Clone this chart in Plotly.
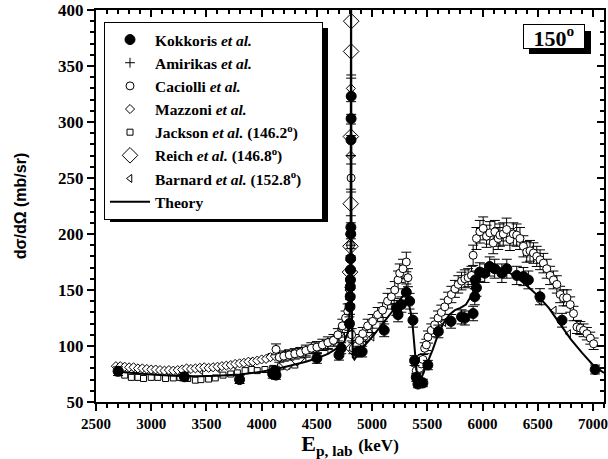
import plotly.graph_objects as go

# ---------------- data ----------------
kok_x = [2700, 3300, 3800, 4100, 4120, 4130, 4500, 4700, 4720, 4795, 4800, 4802, 4803,
         4804, 4805, 4806, 4807, 4808, 4809, 4810, 4811, 4870, 4910, 5110, 5220, 5235,
         5265, 5310, 5340, 5370, 5385, 5400, 5415, 5430, 5460, 5505, 5600, 5715, 5810,
         5840, 5915, 5930, 5945, 5935, 5975, 6020, 6065, 6110, 6175, 6220, 6310, 6370,
         6415, 6520, 6720, 7020]
kok_y = [77.5, 72.5, 70, 75, 78, 74, 89, 92, 98, 120, 135, 144, 153,
         159, 168, 178, 200, 206, 284, 303, 323, 95, 95, 114, 134, 128,
         137, 148, 140, 123, 87, 72, 66, 68, 67, 83, 113, 122, 126,
         125, 129, 144, 152, 159, 166, 165, 171, 169, 165, 169, 163, 162,
         159, 144, 123, 79]

ami_x = [4400, 4500, 4600, 4700, 4750, 4790, 4800, 4805, 4807, 4809, 4810, 4811,
         4830, 4870, 4920, 5000, 5100, 5200, 5300]
ami_y = [90, 93, 97, 103, 108, 122, 150, 200, 240, 270, 305, 342,
         96, 100, 104, 112, 122, 138, 160]

cac_x = [4130, 4160, 4200, 4250, 4300, 4350, 4400, 4450, 4500, 4550, 4600, 4650,
         4690, 4730, 4760, 4780, 4795, 4800, 4805, 4810, 4815, 4830, 4860, 4885,
         4915, 4960, 5005, 5050, 5095, 5140, 5175, 5205, 5235, 5250, 5280, 5310,
         5325, 5400, 5430, 5445, 5460, 5476, 5491, 5506, 5536, 5567, 5597, 5627,
         5658, 5688, 5718, 5750, 5780, 5810, 5840, 5870, 5900, 5915, 5945, 5976,
         6006, 6036, 6066, 6097, 6112, 6142, 6157, 6188, 6218, 6248, 6279, 6309,
         6339, 6370, 6400, 6430, 6461, 6491, 6521, 6551, 6582, 6612, 6642, 6673,
         6703, 6733, 6764, 6794, 6824, 6855, 6885, 6915, 6945, 6976, 7006]
cac_y = [97, 90, 91, 92, 93, 94, 96, 98, 99, 101, 103, 105,
         110, 118, 125, 131, 145, 160, 190, 250, 110, 98, 100, 105,
         111, 118, 122, 128, 132, 140, 144, 150, 159, 165, 169, 175,
         161, 78, 80, 84, 88, 98, 101, 108, 114, 119, 125, 130,
         135, 141, 146, 151, 155, 158, 160, 161, 163, 181, 196, 202,
         205, 198, 201, 192, 202, 196, 199, 200, 204, 195, 200, 199,
         196, 189, 184, 185, 183, 180, 177, 174, 169, 163, 159, 155,
         146, 143, 143, 137, 129, 117, 116, 114, 111, 107, 102]

maz_x = [2680, 2720, 2760, 2800, 2840, 2880, 2920, 2960, 3000, 3040, 3080, 3120,
         3160, 3200, 3240, 3280, 3320, 3360, 3400, 3440, 3480, 3520, 3560, 3600,
         3640, 3680, 3720, 3760, 3800, 3840, 3880, 3920, 3960, 4000, 4040, 4080,
         4120, 4160, 4200, 4240, 4280, 4320, 4360, 4400, 4440, 4480, 4520, 4560,
         4600, 4640, 4680, 4720, 4750, 4780, 4795, 4800, 4805, 4808, 4830, 4870,
         4920, 4970]
maz_y = [82, 82, 81.5, 81, 81, 80, 80, 79.5, 79, 79, 78.5, 78,
         78.5, 78, 78.5, 79, 80, 79.5, 80, 80.5, 81, 80.5, 81, 81.5,
         82, 82.5, 83, 84, 84.5, 85, 86, 86, 87, 88, 88.5, 90,
         91, 90, 91, 92, 93, 94, 95, 96, 97, 98, 99, 101,
         103, 105, 108, 112, 116, 125, 150, 190, 270, 330, 95, 102,
         107, 112]

jac_x = [2700, 2760, 2820, 2880, 2930, 3000, 3060, 3130, 3200, 3260, 3330, 3400,
         3450, 3520, 3580, 3650, 3720, 3780, 3850, 3910, 3960, 4030, 4100, 4170,
         4230, 4300]
jac_y = [76, 74, 72, 72, 71, 72, 72, 71, 71.5, 72, 71, 69.5,
         70, 70.5, 71.5, 74, 75, 76, 78, 79, 78, 79, 80, 81.5,
         82, 83]

rei_x = [4230, 4320, 4760, 4800, 4804, 4806, 4808, 4810, 4811, 4830, 4880]
rei_y = [85, 89, 116, 166, 189, 227, 287, 363, 390, 98, 102]

bar_x = [2700, 2850, 3000, 3150, 3300, 3450, 3600, 3750, 3900, 4050, 4200, 4350,
         4500, 4650, 4750, 5000, 5100, 5250, 5650, 6520, 6650, 6780]
bar_y = [80, 79, 78, 77, 77, 78, 80, 83, 86, 90, 93, 96,
         99, 104, 112, 108, 118, 138, 121, 140, 132, 111]

th_x = [2700, 2800, 3000, 3200, 3400, 3600, 3800, 4000, 4200, 4400, 4500, 4600,
        4700, 4750, 4780, 4790, 4800, 4805, 4808, 4810, 4812, 4814, 4818, 4825,
        4840, 4860, 4900, 5000, 5100, 5200, 5250, 5290, 5320, 5350, 5370, 5390,
        5410, 5425, 5440, 5470, 5500, 5550, 5600, 5650, 5700, 5750, 5800, 5850,
        5900, 5950, 6000, 6050, 6100, 6150, 6200, 6300, 6400, 6500, 6600, 6700,
        6800, 6900, 7000, 7100]
th_y = [77, 76, 74.5, 73.5, 73, 73.5, 74.5, 77, 81, 86, 89, 93,
        99, 104, 112, 118, 135, 170, 300, 460, 300, 150, 105, 90,
        88, 91, 97, 108, 120, 133, 141, 146, 143, 130, 115, 90,
        70, 66, 70, 78, 85, 97, 111, 121, 128, 132, 134, 137,
        145, 156, 165, 170, 171, 170, 168, 162, 154, 145, 134, 120,
        106, 94, 83, 76]

x_ticks = [2500, 3000, 3500, 4000, 4500, 5000, 5500, 6000, 6500, 7000]
y_ticks = [50, 100, 150, 200, 250, 300, 350, 400]

# ---------------- figure ----------------
W, H = 608, 459
L, R, T, B = 96, 4, 10, 57
PW, PH = W - L - R, H - T - B


def px(xp):
    return (xp - L) / PW


def py(yp):
    return (H - B - yp) / PH


fig = go.Figure()

err_kw = dict(type="percent", value=5, color="black", thickness=1, width=5)
pad = "&nbsp;" * 4

fig.add_trace(go.Scatter(x=jac_x, y=jac_y, mode="markers",
                         name="<b>Jackson <i>et al.</i> (146.2<sup>o</sup>)</b>", legendrank=5,
                         marker=dict(symbol="square", size=6, color="white",
                                     line=dict(color="black", width=1))))
fig.add_trace(go.Scatter(x=bar_x, y=bar_y, mode="markers",
                         name="<b>Barnard <i>et al.</i> (152.8<sup>o</sup>)</b>" + pad,
                         legendrank=7,
                         marker=dict(symbol="triangle-left", size=7, color="white",
                                     line=dict(color="black", width=1))))
fig.add_trace(go.Scatter(x=maz_x, y=maz_y, mode="markers",
                         name="<b>Mazzoni <i>et al.</i></b>", legendrank=4,
                         marker=dict(symbol="diamond", size=7, color="white",
                                     line=dict(color="black", width=1))))
fig.add_trace(go.Scatter(x=rei_x, y=rei_y, mode="markers",
                         name="<b>Reich <i>et al.</i> (146.8<sup>o</sup>)</b>", legendrank=6,
                         marker=dict(symbol="diamond", size=12, color="white",
                                     line=dict(color="black", width=1))))
fig.add_trace(go.Scatter(x=ami_x, y=ami_y, mode="markers",
                         name="<b>Amirikas <i>et al.</i></b>", legendrank=2,
                         marker=dict(symbol="cross-thin", size=7, color="black",
                                     line=dict(color="black", width=1))))
fig.add_trace(go.Scatter(x=cac_x, y=cac_y, mode="markers",
                         name="<b>Caciolli <i>et al.</i></b>", legendrank=3,
                         error_y=err_kw,
                         marker=dict(symbol="circle", size=8, color="white",
                                     line=dict(color="black", width=1))))
fig.add_trace(go.Scatter(x=th_x, y=th_y, mode="lines",
                         name="<b>Theory</b>", legendrank=8,
                         line=dict(color="black", width=2)))
fig.add_trace(go.Scatter(x=kok_x, y=kok_y, mode="markers",
                         name="<b>Kokkoris <i>et al.</i></b>", legendrank=1,
                         error_y=err_kw,
                         marker=dict(symbol="circle", size=10, color="black",
                                     line=dict(color="black", width=1))))
# invisible trace so the mirrored (top/right) axes get drawn
fig.add_trace(go.Scatter(x=[None], y=[None], xaxis="x2", yaxis="y2",
                         showlegend=False, hoverinfo="skip"))

tickfont = dict(family="Liberation Serif", size=15, color="black", weight="bold")
common_x = dict(range=[2500, 7100], tickvals=x_ticks,
                ticktext=["<b>%d</b>" % v for v in x_ticks],
                showline=True, linewidth=2, linecolor="black", showgrid=False,
                zeroline=False, ticklen=7, tickwidth=2, tickcolor="black",
                minor=dict(dtick=100, tick0=2500, ticklen=4, tickwidth=1.5,
                           tickcolor="black"))
common_y = dict(range=[50, 400], tickvals=y_ticks,
                ticktext=["<b>%d</b>" % v for v in y_ticks],
                showline=True, linewidth=2, linecolor="black", showgrid=False,
                zeroline=False, ticklen=7, tickwidth=2, tickcolor="black",
                minor=dict(dtick=10, tick0=50, ticklen=4, tickwidth=1.5,
                           tickcolor="black"))

fig.update_layout(
    width=W, height=H,
    margin=dict(l=L, r=R, t=T, b=B, autoexpand=False),
    paper_bgcolor="white", plot_bgcolor="white",
    font=dict(family="Liberation Serif", color="black"),
    showlegend=True,
    xaxis=dict(**common_x, ticks="outside", tickfont=tickfont,
               minor_ticks="outside",
               title=dict(text="<b>E<sub>p, lab</sub> <span style='font-size:17px'>(keV)</span></b>",
                          font=dict(family="Liberation Serif", size=22, color="black"),
                          standoff=4)),
    yaxis=dict(**common_y, ticks="outside", tickfont=dict(tickfont, size=17),
               minor_ticks="outside",
               title=dict(text="<b>dσ/dΩ (mb/sr)</b>",
                          font=dict(family="Liberation Sans", size=16, color="black"),
                          standoff=27)),
    xaxis2=dict(**common_x, overlaying="x", side="top", anchor="y2",
                ticks="inside", minor_ticks="inside", showticklabels=False),
    yaxis2=dict(**common_y, overlaying="y", side="right", anchor="x2",
                ticks="inside", minor_ticks="inside", showticklabels=False),
    legend=dict(x=px(104), y=py(22), xanchor="left", yanchor="top",
                bgcolor="white", bordercolor="black", borderwidth=1,
                font=dict(family="Liberation Serif", size=15.5, color="black"),
                itemwidth=40, traceorder="normal"),
)

# drop shadows (legend and angle label)
fig.add_shape(type="rect", xref="paper", yref="paper",
              x0=px(110), x1=px(328), y0=py(222), y1=py(28),
              fillcolor="black", line=dict(width=0), layer="above")
fig.add_shape(type="rect", xref="paper", yref="paper",
              x0=px(529), x1=px(591), y0=py(54), y1=py(31),
              fillcolor="black", line=dict(width=0), layer="above")
fig.add_annotation(xref="paper", yref="paper", x=px(554), y=py(36.5),
                   xanchor="center", yanchor="middle",
                   text="<b>150<sup>o</sup></b>", showarrow=False,
                   font=dict(family="Liberation Serif", size=22, color="black"),
                   bgcolor="white", bordercolor="black", borderwidth=1,
                   width=58, height=21, borderpad=1)

fig.write_html("out.html", config={"displayModeBar": False},
               post_script="document.body.style.margin='0';document.body.style.padding='0';")
